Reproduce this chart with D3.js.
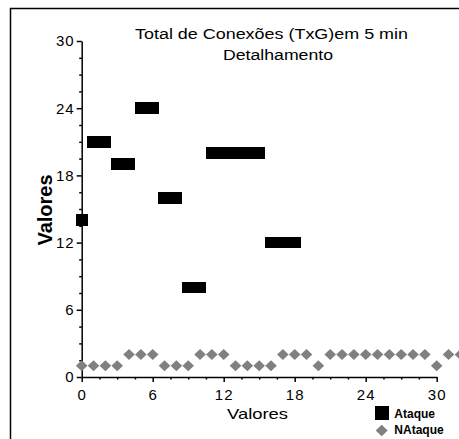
<!DOCTYPE html>
<html>
<head>
<meta charset="utf-8">
<script src="https://cdn.jsdelivr.net/npm/d3@7"></script>
<style>
  html, body { margin: 0; padding: 0; background: #fff; }
  svg { display: block; }
  text { font-family: "Liberation Sans", Arial, sans-serif; fill: #000; }
</style>
</head>
<body>
<svg id="chart" width="459" height="439"></svg>
<script>
// Connection counts per 5-minute slot
const ataqueX = [0, 1, 2, 3, 4, 5, 6, 7, 8, 9, 10, 11, 12, 13, 14, 15, 16, 17, 18];
const ataqueY = [14, 21, 21, 19, 19, 24, 24, 16, 16, 8, 8, 20, 20, 20, 20, 20, 12, 12, 12];

const nataqueX = d3.range(0, 33);
const nataqueY = [1, 1, 1, 1, 2, 2, 2, 1, 1, 1, 2, 2, 2, 1, 1, 1, 1, 2, 2, 2, 1,
                  2, 2, 2, 2, 2, 2, 2, 2, 2, 1, 2, 2];

const majorTicks = [0, 6, 12, 18, 24, 30];
const minorTicks = d3.range(0, 30.01, 1.5).filter(v => v % 6 !== 0);

const titleLines = ["Total de Conexões (TxG)em 5 min", "Detalhamento"];
const xLabel = "Valores";
const yLabel = "Valores";
const seriesNames = ["Ataque", "NAtaque"];

const svg = d3.select("#chart");

// outer frame (runs past the right and bottom edges)
svg.append("rect")
  .attr("x", 10.5).attr("y", 8.5)
  .attr("width", 470).attr("height", 450)
  .attr("fill", "none").attr("stroke", "#000").attr("stroke-width", 1.5);

const x = d3.scaleLinear().domain([0, 30]).range([81.7, 436.7]);
const y = d3.scaleLinear().domain([0, 30]).range([377, 41]);

// title
svg.append("text")
  .attr("x", 271.5).attr("y", 39)
  .attr("text-anchor", "middle")
  .attr("font-size", 14)
  .attr("textLength", 273).attr("lengthAdjust", "spacingAndGlyphs")
  .text(titleLines[0]);
svg.append("text")
  .attr("x", 278).attr("y", 60)
  .attr("text-anchor", "middle")
  .attr("font-size", 14)
  .attr("textLength", 110).attr("lengthAdjust", "spacingAndGlyphs")
  .text(titleLines[1]);

// axes
function styleAxis(g) {
  g.select(".domain").attr("stroke", "#000").attr("stroke-width", 1.5);
  g.selectAll(".tick line").attr("stroke", "#000").attr("stroke-width", 1.5);
  g.selectAll(".tick text")
    .attr("font-size", 15)
    .style("letter-spacing", "1px")
    .attr("font-family", "\"Liberation Sans\", Arial, sans-serif");
}

const xAxis = svg.append("g")
  .attr("transform", `translate(0,${y(0)})`)
  .call(d3.axisBottom(x).tickValues(majorTicks).tickSize(5).tickSizeOuter(0).tickPadding(7));
styleAxis(xAxis);

svg.append("g")
  .attr("transform", `translate(0,${y(0)})`)
  .call(d3.axisBottom(x).tickValues(minorTicks).tickSize(2.5).tickFormat(""))
  .call(g => g.select(".domain").remove())
  .selectAll(".tick line").attr("stroke", "#000").attr("stroke-width", 1.5);

const yAxis = svg.append("g")
  .attr("transform", `translate(${x(0)},0)`)
  .call(d3.axisLeft(y).tickValues(majorTicks).tickSize(5).tickSizeOuter(0).tickPadding(2));
styleAxis(yAxis);

svg.append("g")
  .attr("transform", `translate(${x(0)},0)`)
  .call(d3.axisLeft(y).tickValues(minorTicks).tickSize(2.5).tickFormat(""))
  .call(g => g.select(".domain").remove())
  .selectAll(".tick line").attr("stroke", "#000").attr("stroke-width", 1.5);

// axis titles
svg.append("text")
  .attr("x", 257.5).attr("y", 419)
  .attr("text-anchor", "middle")
  .attr("font-size", 15)
  .attr("textLength", 61).attr("lengthAdjust", "spacingAndGlyphs")
  .text(xLabel);

svg.append("text")
  .attr("transform", `translate(51.5,210) rotate(-90)`)
  .attr("text-anchor", "middle")
  .attr("font-size", 20)
  .attr("font-weight", "bold")
  .text(yLabel);

// NAtaque: grey diamonds
const dw = 5.8, dh = 5.5;
const diamond = (cx, cy, w, h) => `M${cx},${cy - h}L${cx + w},${cy}L${cx},${cy + h}L${cx - w},${cy}Z`;
svg.append("g")
  .selectAll("path")
  .data(nataqueX.map((v, i) => [v, nataqueY[i]]))
  .join("path")
  .attr("d", d => diamond(x(d[0]), y(d[1]), dw, dh))
  .attr("fill", "#808080");

// Ataque: black squares, one x-unit wide so neighbours join into bars
const sw = x(1) - x(0) + 0.4, sh = 11.5;
svg.append("g")
  .attr("shape-rendering", "crispEdges")
  .selectAll("rect")
  .data(ataqueX.map((v, i) => [v, ataqueY[i]]))
  .join("rect")
  .attr("x", d => x(d[0]) - sw / 2)
  .attr("y", d => y(d[1]) - sh / 2)
  .attr("width", sw).attr("height", sh)
  .attr("fill", "#000");

// legend
const legend = svg.append("g");
legend.append("rect")
  .attr("x", 375).attr("y", 406).attr("width", 14).attr("height", 14)
  .attr("fill", "#000");
legend.append("path")
  .attr("d", diamond(381.7, 430.5, 6, 5.8))
  .attr("fill", "#808080");
legend.selectAll("text.leg")
  .data(seriesNames)
  .join("text")
  .attr("class", "leg")
  .attr("x", 394.3)
  .attr("y", (d, i) => 417.5 + i * 16.5)
  .attr("font-size", 12)
  .attr("font-weight", "bold")
  .text(d => d);
</script>
</body>
</html>
